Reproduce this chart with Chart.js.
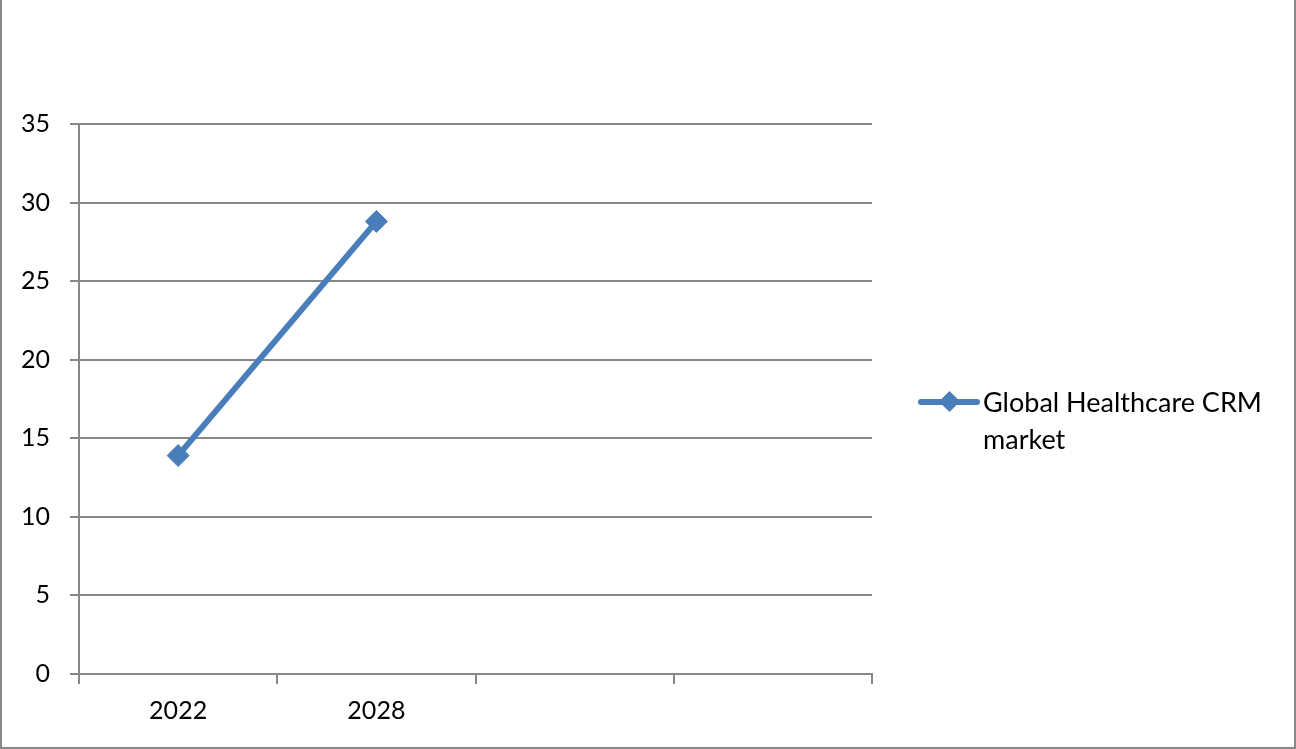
<!DOCTYPE html>
<html>
<head>
<meta charset="utf-8">
<script src="https://cdn.jsdelivr.net/npm/chart.js@4/dist/chart.umd.min.js"></script>
<style>
  html, body { margin: 0; padding: 0; background: #fff; }
  #wrap {
    position: relative;
    width: 1296px;
    height: 749px;
    box-sizing: border-box;
    border-left: 2px solid #888;
    border-right: 2px solid #888;
    border-bottom: 2px solid #888;
  }
  #chart { position: absolute; left: 0; top: 0; }
  #legend {
    position: absolute;
    left: 914px;
    top: 383px;
    font-family: Lato, 'Open Sans', sans-serif;
    font-size: 27px;
    line-height: 37px;
    color: #000;
    display: flex;
    align-items: flex-start;
  }
  #legend .key { position: relative; width: 67px; height: 37px; flex: none; }
  #legend .key .ln {
    position: absolute; left: 2px; right: 3px; top: 16px; height: 6px;
    background: #4a7ebb; border-radius: 3px;
  }
  #legend .key .dm {
    position: absolute; left: 26px; top: 11px; width: 15px; height: 15px;
    background: #4a7ebb; transform: rotate(45deg);
  }
</style>
</head>
<body>
<div id="wrap">
  <canvas id="chart" width="1292" height="747"></canvas>
  <div id="legend"></div>
</div>
<script>
const seriesName = 'Global Healthcare CRM market'
const categories = ['2022', '2028', '', '']
const marketValues = [13.9, 28.8, null, null]
const yTicks = [0, 5, 10, 15, 20, 25, 30, 35]

const lineColor = '#4a7ebb'
const gridColor = '#878787'
const font = { family: "Lato, 'Open Sans', sans-serif", size: 25 }

const legend = document.getElementById('legend')
legend.innerHTML = `
  <div class="key"><div class="ln"></div><div class="dm"></div></div>
  <div>Global Healthcare CRM<br>market</div>
`

new Chart(document.getElementById('chart'), {
  type: 'line',
  data: {
    labels: categories,
    datasets: [
      {
        label: seriesName,
        data: marketValues,
        borderColor: lineColor,
        backgroundColor: lineColor,
        borderWidth: 6,
        pointStyle: 'rectRot',
        pointRadius: 11,
        pointBorderWidth: 1,
        pointBackgroundColor: lineColor,
        pointBorderColor: lineColor,
        tension: 0
      }
    ]
  },
  options: {
    responsive: false,
    animation: false,
    layout: { padding: { left: 0, top: 124, right: 422, bottom: 0 } },
    plugins: { legend: { display: false }, tooltip: { enabled: false } },
    scales: {
      x: {
        offset: true,
        grid: {
          offset: true,
          drawOnChartArea: false,
          drawTicks: true,
          tickLength: 10,
          color: gridColor,
          lineWidth: 2
        },
        border: { color: gridColor, width: 2 },
        ticks: { color: '#000', font, padding: 12, maxRotation: 0 },
        afterFit: (scale) => { scale.height = 73 }
      },
      y: {
        min: 0,
        max: 35,
        afterBuildTicks: (scale) => { scale.ticks = yTicks.map((v) => ({ value: v })) },
        grid: { color: gridColor, lineWidth: 2, tickLength: 9 },
        border: { color: gridColor, width: 2 },
        ticks: { color: '#000', font, padding: 20 },
        afterFit: (scale) => { scale.width = 77 }
      }
    }
  }
})
</script>
</body>
</html>
